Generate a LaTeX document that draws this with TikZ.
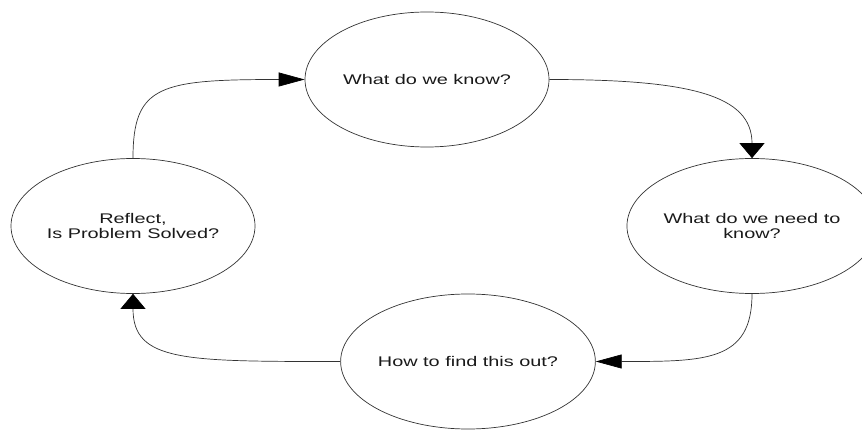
\documentclass[tikz,border=0pt]{standalone}
\usepackage{fontspec}
\newfontfamily\diafont[FakeStretch=1.42]{Liberation Sans}
\usetikzlibrary{shapes.geometric,arrows.meta}
\begin{document}
\begin{tikzpicture}[x=1pt,y=-1pt,
  bubble/.style={ellipse, draw=black!80, line width=0.7pt, minimum width=244pt, minimum height=135pt, inner sep=0pt, align=center, text=black!90, font=\diafont\fontsize{14}{15}\selectfont},
  link/.style={draw=black!80, line width=0.7pt},
  htip/.style={-{Triangle[length=26pt,width=14pt,black]}},
  vtip/.style={-{Triangle[length=15pt,width=25pt,black]}}]
\useasboundingbox (0,0) rectangle (862,430);
\node[bubble] (know) at (427,79.5) {What do we know?};
\node[bubble] (need) at (752,226) {What do we need to\\know?};
\node[bubble] (find) at (468,361.5) {How to find this out?};
\node[bubble] (refl) at (133,226) {Reflect,\\Is Problem Solved?};
\draw[link,vtip] (know.east) .. controls +(141,0) and +(0,-63) .. (need.north);
\draw[link,htip] (need.south) .. controls +(0,68) and +(110,0) .. (find.east);
\draw[link,vtip] (find.west) .. controls +(-156,0) and +(0,68) .. (refl.south);
\draw[link,htip] (refl.north) .. controls +(0,-73) and +(-145,0) .. (know.west);
\end{tikzpicture}
\end{document}
